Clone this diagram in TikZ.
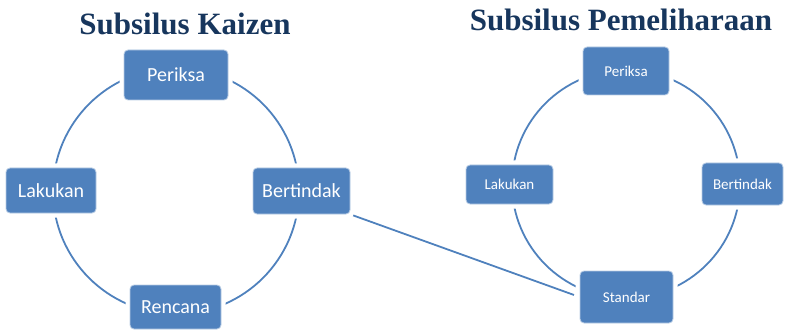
\documentclass[tikz,border=0pt]{standalone}
\usepackage{fontspec}
\setmainfont{Carlito}
\newfontfamily\titlefont{Liberation Serif}
\usepackage{tikz}
\usetikzlibrary{arrows.meta}
\usetikzlibrary{calc}
\definecolor{boxblue}{HTML}{4F81BD}
\definecolor{boxedge}{HTML}{B9CDE5}
\definecolor{titlenavy}{HTML}{17365D}
\tikzset{
  stagebox/.style={rectangle, rounded corners=4pt, fill=boxblue, draw=boxedge,
    line width=0.8pt, text=white, inner sep=0pt,
    preaction={draw=white, line width=9pt}},
  cycleline/.style={boxblue, line width=1.8pt},
  cycletitle/.style={text=titlenavy, font=\titlefont\bfseries\fontsize{31}{33}\selectfont}
}

\begin{document}
\begin{tikzpicture}[x=1pt,y=-1pt]
    \useasboundingbox (0,0) rectangle (786,331);
    % kaizen cycle
    \node[cycletitle] (kTitle) at (185,24) {Subsilus Kaizen};
    \draw[cycleline] (176,191) circle (123pt);
    \begin{scope}[font=\fontsize{20}{22}\selectfont]
      \node[stagebox, minimum width=104pt, minimum height=50pt] (kPeriksa) at (176,75) {Periksa};
      \node[stagebox, minimum width=90pt, minimum height=45pt] (kLakukan) at (51,190.5) {Lakukan};
      \node[stagebox, minimum width=97pt, minimum height=46pt] (kBertindak) at (301.5,191) {Bertindak};
      \node[stagebox, minimum width=91pt, minimum height=44pt] (kRencana) at (175.5,307) {Rencana};
    \end{scope}
    % maintenance cycle
    \node[cycletitle] (pTitle) at (621,20) {Subsilus Pemeliharaan};
    \draw[cycleline] (626,184) circle (114pt);
    \begin{scope}[font=\fontsize{15}{17}\selectfont]
      \node[stagebox, minimum width=86pt, minimum height=48pt] (pPeriksa) at (626,71) {Periksa};
      \node[stagebox, minimum width=87pt, minimum height=39pt] (pLakukan) at (509.5,184.5) {Lakukan};
      \node[stagebox, minimum width=81pt, minimum height=42pt] (pBertindak) at (742.5,184) {Bertindak};
      \node[stagebox, minimum width=93pt, minimum height=52pt] (pStandar) at (626.5,297) {Standar};
    \end{scope}
    \draw[cycleline, shorten <=3pt, shorten >=6pt] (kBertindak.south east) -- (pStandar.west);
\end{tikzpicture}
\end{document}
